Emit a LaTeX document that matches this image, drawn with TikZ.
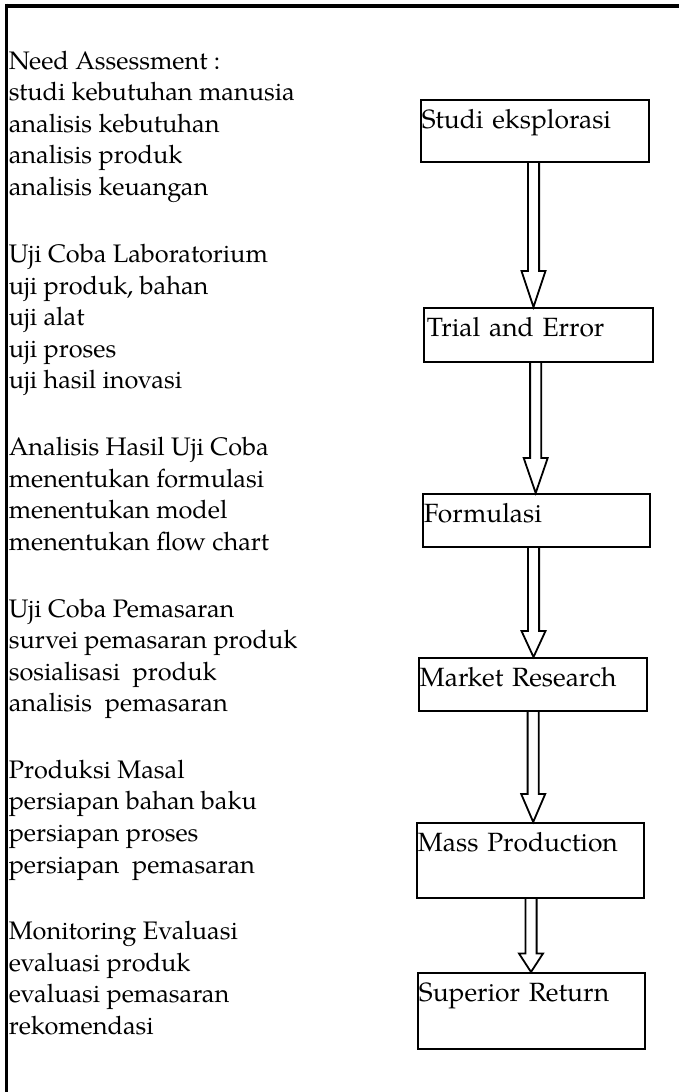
\documentclass[tikz,border=0pt]{standalone}
\usepackage{fontspec}
\setmainfont{texgyrepagella-regular.otf}
\usetikzlibrary{calc}
\newdimen\px \px=0.75pt
\newcommand\listfont{\fontsize{19pt}{23.7pt}\selectfont}
\newcommand\boxfont{\fontsize{19.8pt}{23.7pt}\selectfont}
\tikzset{
  stage/.style={draw, line width=1.35pt, rectangle, anchor=north west,
    inner ysep=0pt, inner xsep=1\px, align=left, font=\boxfont,
    text height=28.5\px},
  listline/.style={anchor=base west, inner sep=0pt, font=\listfont},
  hollowarrow/.style={draw, line width=1.35pt, line join=miter},
  frameline/.style={line width=#1},
}
% hollow block arrow: from node #1 to node #2, centred at x=#3, head length #4
\newcommand\flowarrow[4]{%
  \coordinate (ax) at (#3,0);
  \draw[hollowarrow]
    ($(ax |- #1.south)+(-5.6,0)$) -- ($(ax |- #2.north)+(-5.6,-#4)$)
    -- ($(ax |- #2.north)+(-12,-#4)$) -- (ax |- #2.north)
    -- ($(ax |- #2.north)+(12,-#4)$) -- ($(ax |- #2.north)+(5.6,-#4)$)
    -- ($(ax |- #1.south)+(5.6,0)$);
}
\begin{document}
\begin{tikzpicture}[x=0.75pt, y=-0.75pt]
\useasboundingbox (0,0) rectangle (679,1092);

% frame: top and left rules
\draw[frameline=3pt] (5,5.5) -- (679,5.5);
\draw[frameline=2.5pt] (6.7,3.5) -- (6.7,1092);

% stages of the innovation process
\node[stage, text width=226\px, text depth=33.5\px] (b1) at (420,99) {Studi eksplorasi};
\node[stage, inner xsep=3\px, text width=223\px, text depth=25.5\px] (b2) at (423,307) {Trial and Error};
\node[stage, text width=225\px, text depth=24.5\px] (b3) at (422,493) {Formulasi};
\node[stage, text width=226\px, text depth=24.5\px] (b4) at (418,657) {Market Research};
\node[stage, text width=225\px, text depth=46.5\px] (b5) at (416,822) {Mass Production};
\node[stage, text width=225\px, text depth=47.5\px] (b6) at (417,972) {Superior Return};

\flowarrow{b1}{b2}{533.5}{36}
\flowarrow{b2}{b3}{535.7}{35}
\flowarrow{b3}{b4}{533.5}{26}
\flowarrow{b4}{b5}{533.2}{28}
\flowarrow{b5}{b6}{531}{18.5}

% activities for each stage, one block per stage
\foreach \blk/\yy/\lines in {
  1/69/{Need Assessment :,studi kebutuhan manusia,analisis kebutuhan,analisis produk,analisis keuangan},
  2/262.5/{Uji Coba Laboratorium,{uji produk, bahan},uji alat,uji proses,uji hasil inovasi},
  3/455.5/{Analisis Hasil Uji Coba,menentukan formulasi,menentukan model,menentukan flow chart},
  4/617/{Uji Coba Pemasaran,survei pemasaran produk,sosialisasi\ \ produk,analisis\ \ pemasaran},
  5/778.3/{Produksi Masal,persiapan bahan baku,persiapan proses,persiapan\ \ pemasaran},
  6/939.7/{Monitoring Evaluasi,evaluasi produk,evaluasi pemasaran,rekomendasi}}{
  \foreach \ln [count=\i from 0] in \lines {
    \node[listline] (t\blk-\i) at (8.5,\yy+31.6*\i) {\ln};
  }
}
\end{tikzpicture}
\end{document}
